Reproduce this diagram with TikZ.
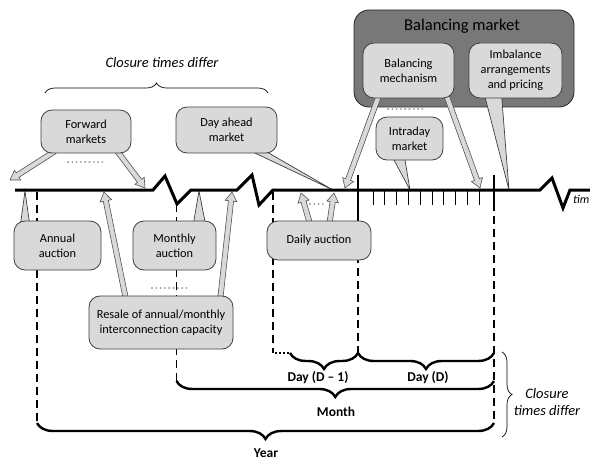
\documentclass[tikz,border=0pt]{standalone}
\usepackage{fontspec}
\setmainfont{Carlito}
\usetikzlibrary{calc,decorations.pathreplacing}

\definecolor{bubblefill}{HTML}{D9D9D9}
\definecolor{bubbleedge}{HTML}{3F3F3F}
\definecolor{panelfill}{HTML}{787878}
\definecolor{dotgray}{HTML}{9A9A9A}

\pgfdeclarelayer{panel}
\pgfdeclarelayer{pointers}
\pgfsetlayers{panel,pointers,main}

\tikzset{
  bubble/.style={draw=bubbleedge, fill=bubblefill, line width=0.8pt,
    rounded corners=11pt, align=center, inner sep=0pt,
    font=\fontsize{12.3}{14.8}\selectfont},
  panelbox/.style={draw=black!85, fill=panelfill, line width=0.8pt,
    rounded corners=15pt, inner sep=0pt},
  pointer/.style={draw=bubbleedge, fill=bubblefill, line width=0.7pt, line join=miter},
  blockarrow/.style={draw=bubbleedge!90, fill=bubblefill, line width=0.6pt, line join=miter},
  timeaxis/.style={line width=3pt, line join=miter},
  guide/.style={line width=1.2pt, dash pattern=on 8pt off 5pt},
  marker/.style={line width=1.3pt},
  hourtick/.style={line width=0.9pt},
  grayfill/.style={dotgray, line width=2.1pt, line cap=round, dash pattern=on 0pt off 4.3pt},
  blackdots/.style={line width=2pt, dash pattern=on 2pt off 2pt},
  spanbrace/.style={line width=2.4pt, decorate,
    decoration={brace, amplitude=16pt, mirror}},
  notebrace/.style={line width=0.7pt, decorate, decoration={brace, amplitude=10pt}},
  spanlabel/.style={font=\fontsize{13.5}{16}\selectfont\bfseries},
  note/.style={font=\fontsize{14.5}{17}\selectfont\itshape, align=center},
}

% hollow block arrow from #1 to the tip #2
\newcommand{\blockarr}[2]{%
  \path coordinate (ba-h) at ($(#2)!9pt!(#1)$);
  \filldraw[blockarrow]
    ($(#1)!2.6pt!90:(#2)$) -- ($(ba-h)!2.6pt!90:(#2)$) --
    ($(ba-h)!5.8pt!90:(#2)$) -- (#2) --
    ($(ba-h)!5.8pt!-90:(#2)$) -- ($(ba-h)!2.6pt!-90:(#2)$) --
    ($(#1)!2.6pt!-90:(#2)$) -- cycle;
}

\begin{document}
\begin{tikzpicture}[x=1pt, y=-1pt]
\useasboundingbox (0,0) rectangle (590,460);

% ---------- callout boxes ----------
\node[bubble, minimum width=90pt, minimum height=43pt] (fwd) at (86,131.5) {Forward\\markets};
\node[bubble, minimum width=101pt, minimum height=46pt] (dah) at (226.5,130) {Day ahead\\market};
\node[bubble, minimum width=87pt, minimum height=49pt] (ann) at (57.5,245.5) {Annual\\auction};
\node[bubble, minimum width=83pt, minimum height=49pt] (mon) at (174.5,245.5) {Monthly\\auction};
\node[bubble, minimum width=144pt, minimum height=53pt] (resale) at (161,322.5)
  {Resale of annual/monthly\\interconnection capacity};
\node[bubble, minimum width=104pt, minimum height=39pt] (daily) at (319,240.5) {Daily auction};
\node[bubble, minimum width=91pt, minimum height=55pt] (bmech) at (408.5,70.5) {Balancing\\mechanism};
\node[bubble, minimum width=93pt, minimum height=55pt] (imbal) at (515.5,70.5)
  {Imbalance\\arrangements\\and pricing};
\node[bubble, minimum width=67pt, minimum height=43pt] (intra) at (409.5,138.5) {Intraday\\market};

% balancing market panel behind its two boxes
\begin{pgfonlayer}{panel}
  \node[panelbox, minimum width=220pt, minimum height=97pt] (bal) at (464,58.5) {};
\end{pgfonlayer}
\node[font=\fontsize{16.5}{19}\selectfont] (baltitle) at (462,26) {Balancing market};

% ---------- points on the time axis ----------
\coordinate (tAnn)   at (25,191);
\coordinate (tFwdL)  at (10,180);
\coordinate (tFwdR)  at (145,188);
\coordinate (tMon)   at (199,191);
\coordinate (tResL)  at (104,192);
\coordinate (tResR)  at (232,192);
\coordinate (tDah)   at (333,190);
\coordinate (tDayL)  at (301,193);
\coordinate (tDayR)  at (334,193);
\coordinate (tBmL)   at (345,188);
\coordinate (tBmR)   at (480,188);
\coordinate (tIntra) at (410,190);
\coordinate (tImb)   at (509,190);

% arrow start points on the box borders
\coordinate (sFwdL) at ([xshift=14pt, yshift=2pt]fwd.south west);
\coordinate (sFwdR) at ([xshift=-14pt, yshift=2pt]fwd.south east);
\coordinate (sBmL)  at ([xshift=16pt, yshift=2pt]bmech.south west);
\coordinate (sBmR)  at ([xshift=-8pt, yshift=3pt]bmech.south east);
\coordinate (sResL) at ([xshift=37pt, yshift=-2pt]resale.north west);
\coordinate (sResR) at ([xshift=-13pt, yshift=-2pt]resale.north east);
\coordinate (sDayL) at ([xshift=43pt, yshift=-2pt]daily.north west);
\coordinate (sDayR) at ([xshift=63pt, yshift=-2pt]daily.north west);

\begin{pgfonlayer}{pointers}
  % guide lines run behind the boxes
  \draw[guide] (37,192) -- (37,423);
  \draw[guide] (176.5,204) -- (176.5,381);
  \draw[guide] (273,192) -- (273,353);
  \draw[guide] (358,216) -- (358,353);
  \draw[guide] (494,203) -- (494,423);
  \draw[blackdots] (275,353) -- (291,353);
  % callout pointers
  \filldraw[pointer] ([xshift=7pt, yshift=-3pt]ann.north west) -- (tAnn) -- ([xshift=16pt, yshift=-3pt]ann.north west) -- cycle;
  \filldraw[pointer] ([xshift=-23pt, yshift=-3pt]mon.north east) -- (tMon) -- ([xshift=-11pt, yshift=-3pt]mon.north east) -- cycle;
  \filldraw[pointer] ([xshift=-28pt, yshift=3pt]dah.south east) -- (tDah) -- ([xshift=-15pt, yshift=4pt]dah.south east) -- cycle;
  \filldraw[pointer] ([xshift=17pt, yshift=3pt]intra.south west) -- (tIntra) -- ([xshift=29pt, yshift=3pt]intra.south west) -- cycle;
  \filldraw[pointer] ([xshift=16pt, yshift=3pt]imbal.south west) -- (tImb) -- ([xshift=33pt, yshift=3pt]imbal.south west) -- cycle;
  % hollow arrows
  \blockarr{sFwdL}{tFwdL}
  \blockarr{sFwdR}{tFwdR}
  \blockarr{sBmL}{tBmL}
  \blockarr{sBmR}{tBmR}
  \blockarr{sResL}{tResL}
  \blockarr{sResR}{tResR}
  \blockarr{sDayL}{tDayL}
  \blockarr{sDayR}{tDayR}
\end{pgfonlayer}

% grey dotted runs between related boxes
\draw[grayfill] (68,162) -- (104,162);
\draw[grayfill] (152,288) -- (188,288);
\draw[grayfill] (310,204) -- (327,204);
\draw[grayfill] (388,109) -- (425,109);

% ---------- time axis ----------
\draw[timeaxis] (15,190) -- (153,190) -- (165,176) -- (177,204) -- (191,190)
  -- (237,190) -- (252,175) -- (259,205) -- (273,190)
  -- (540,190) -- (552,178) -- (563,208) -- (570,190) -- (600,190);
\node[anchor=west, inner sep=0pt, font=\fontsize{12}{14}\selectfont\itshape] (tlabel) at (573,199) {tim};

% day boundaries and hourly ticks
\draw[marker] (358,175) -- (358,216);
\draw[marker] (494,175) -- (494,203);
\foreach \k in {0,...,9}
  \draw[hourtick] ({373+11.8*\k},190) -- ({373+11.8*\k},205);

% ---------- spans ----------
\draw[spanbrace] (290,353) -- (358,353);
\draw[spanbrace] (358,353) -- (494,353);
\draw[spanbrace] (176.5,381) -- (494,381);
\draw[spanbrace] (37,423) -- (494,423);
\node[spanlabel] (dm1)  at (318,378) {Day (D – 1)};
\node[spanlabel] (dd)   at (428,378) {Day (D)};
\node[spanlabel] (mth)  at (336,412) {Month};
\node[spanlabel] (yr)   at (266,453) {Year};

% closure-time notes
\draw[notebrace] (45,93) -- (268,93);
\node[note] (ctop) at (162,63) {Closure times differ};
\draw[notebrace] (502,352) -- (502,437);
\node[note] (cright) at (547,402) {Closure\\times differ};

\end{tikzpicture}
\end{document}
